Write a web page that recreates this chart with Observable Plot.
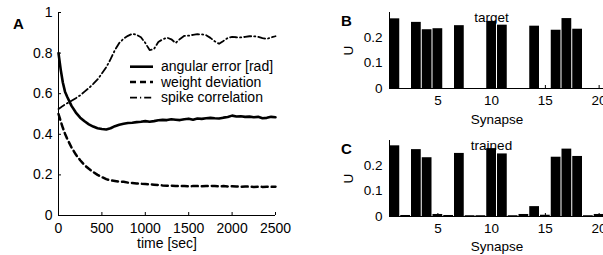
<!DOCTYPE html>
<html><head><meta charset="utf-8">
<script src="https://cdn.jsdelivr.net/npm/d3@7"></script>
<script src="https://cdn.jsdelivr.net/npm/@observablehq/plot@0.6"></script>
<style>
html,body{margin:0;padding:0;background:#fff;overflow:hidden;width:603px;height:255px;}
#fig{position:relative;width:603px;height:255px;overflow:hidden;font-family:"Liberation Sans",Arial,Helvetica,sans-serif;}
#fig > *{position:absolute;}
</style></head><body><div id="fig"></div>
<script>
// ---------- data ----------
const time = [0,25,50,75,100,150,200,250,300,350,400,450,500,550,600,650,700,750,800,850,900,950,1000,1050,1100,1150,1200,1250,1300,1350,1400,1450,1500,1550,1600,1650,1700,1750,1800,1850,1900,1950,2000,2050,2100,2150,2200,2250,2300,2350,2400,2450,2500];
const angularError = [0.80,0.72,0.655,0.61,0.585,0.54,0.507,0.482,0.464,0.449,0.438,0.43,0.426,0.424,0.43,0.44,0.447,0.452,0.456,0.457,0.46,0.462,0.465,0.462,0.465,0.469,0.471,0.47,0.474,0.472,0.47,0.474,0.477,0.472,0.478,0.476,0.479,0.481,0.479,0.478,0.482,0.485,0.492,0.488,0.489,0.486,0.487,0.484,0.486,0.479,0.481,0.486,0.484];
const weightDeviation = [0.50,0.465,0.432,0.403,0.378,0.335,0.30,0.272,0.248,0.23,0.214,0.2,0.189,0.179,0.173,0.17,0.167,0.166,0.162,0.16,0.158,0.156,0.155,0.154,0.152,0.15,0.148,0.147,0.147,0.145,0.146,0.145,0.144,0.145,0.145,0.144,0.145,0.146,0.145,0.144,0.145,0.143,0.144,0.143,0.142,0.143,0.142,0.141,0.142,0.141,0.142,0.141,0.142];
const spikeCorrelation = [0.525,0.532,0.54,0.547,0.553,0.565,0.578,0.592,0.61,0.628,0.648,0.67,0.70,0.73,0.77,0.815,0.85,0.871,0.885,0.895,0.89,0.878,0.85,0.815,0.82,0.855,0.868,0.876,0.868,0.85,0.87,0.885,0.886,0.89,0.893,0.892,0.888,0.875,0.858,0.846,0.86,0.875,0.88,0.878,0.877,0.88,0.883,0.883,0.88,0.874,0.87,0.877,0.883];
const seriesNames = ["angular error [rad]","weight deviation","spike correlation"];
const timeTicks = [0,500,1000,1500,2000,2500];
const errTicks = [0,0.2,0.4,0.6,0.8,1];

const synapses = [1,2,3,4,5,6,7,8,9,10,11,12,13,14,15,16,17,18,19,20];
const targetU  = [0.275,0,0.261,0.232,0.236,0,0.248,0,0,0.265,0.250,0,0,0.246,0,0.230,0.276,0.234,0,0];
const trainedU = [0.279,0.004,0.264,0.232,0.008,0.004,0.249,0.003,0.003,0.268,0.247,0.003,0.008,0.039,0.005,0.234,0.266,0.237,0.003,0.008];
const synapseTicks = [5,10,15,20];
const uTicks = [0,0.1,0.2];
const panelTitles = ["target","trained"];
const panelLetters = ["A","B","C"];

// ---------- styles ----------
const FONT = '"Liberation Sans", Arial, Helvetica, sans-serif';
const lineStyles = [
  {strokeWidth: 2.6, dash: null},
  {strokeWidth: 2.5, dash: "6,4"},
  {strokeWidth: 1.8, dash: "7,3,1.2,3"}
];
const seriesValues = [angularError, weightDeviation, spikeCorrelation];

const fig = document.getElementById("fig");

// ---------- panel A ----------
const A = Plot.plot({
  width: 300, height: 255,
  marginLeft: 58, marginRight: 25, marginTop: 12, marginBottom: 40,
  style: {fontFamily: FONT, fontSize: "14px", color: "black", background: "transparent", overflow: "visible"},
  x: {domain: [0, 2500]},
  y: {domain: [0, 1]},
  marks: [
    ...seriesValues.map((vals, k) => Plot.line(time, {
      x: d => d, y: (d, i) => vals[i], stroke: "black",
      strokeWidth: lineStyles[k].strokeWidth, strokeDasharray: lineStyles[k].dash
    })),
    Plot.ruleX([0], {stroke: "black"}),
    Plot.ruleY([0], {stroke: "black"}),
    Plot.axisX({ticks: timeTicks, tickSize: -3, tickPadding: 11, tickFormat: d => String(d),
      label: "time [sec]", labelAnchor: "center", labelArrow: "none", labelOffset: 32}),
    Plot.axisY({ticks: errTicks, tickSize: -3, tickPadding: 9, tickFormat: d => String(d), label: null})
  ]
});
A.style.left = "0px"; A.style.top = "0px";
fig.appendChild(A);

// ---------- panels B and C ----------
function barPanel(values, title, top, height, marginBottom, labelOffset) {
  const rows = synapses.map((s, i) => ({s, u: values[i]}));
  const p = Plot.plot({
    width: 320, height,
    marginLeft: 89, marginRight: 16, marginTop: 12, marginBottom,
    style: {fontFamily: FONT, fontSize: "13.5px", color: "black", background: "transparent", overflow: "visible"},
    x: {domain: [0.5, 20.5]},
    y: {domain: [0, 0.3]},
    marks: [
      Plot.rectY(rows, {x1: d => d.s - 0.5, x2: d => d.s + 0.5, y: "u", fill: "black", insetLeft: 0.5, insetRight: 0.5}),
      Plot.ruleX([0.5], {stroke: "black"}),
      Plot.ruleY([0], {stroke: "black"}),
      Plot.axisX({ticks: synapseTicks, tickSize: -3, tickPadding: 9.5, label: "Synapse",
        labelAnchor: "center", labelArrow: "none", labelOffset}),
      Plot.axisY({ticks: uTicks, tickSize: -3, tickPadding: 10, tickFormat: d => String(d),
        label: "U", labelAnchor: "center", labelArrow: "none", labelOffset: 46}),
      Plot.text([title], {frameAnchor: "top", dx: -5.5, fontSize: 13.5, fill: "black"})
    ]
  });
  p.style.left = "300px"; p.style.top = top + "px";
  return p;
}
fig.appendChild(barPanel(targetU, panelTitles[0], 0, 128, 40, 35));
fig.appendChild(barPanel(trainedU, panelTitles[1], 128, 127, 39, 34));

// ---------- overlay: legend + panel letters ----------
const svg = d3.create("svg").attr("width", 603).attr("height", 255)
  .style("left", "0px").style("top", "0px").style("pointer-events", "none")
  .style("font-family", FONT);
const legendY = [66.7, 82, 97.7];
seriesNames.forEach((name, k) => {
  svg.append("line").attr("x1", 130).attr("x2", 153).attr("y1", legendY[k]).attr("y2", legendY[k])
    .attr("stroke", "black").attr("stroke-width", lineStyles[k].strokeWidth)
    .attr("stroke-dasharray", lineStyles[k].dash);
  svg.append("text").attr("x", 161).attr("y", legendY[k] + 4.6).attr("font-size", 14).text(name);
});
const letterPos = [[13, 28.5], [341, 26], [341, 153.5]];
panelLetters.forEach((L, k) => {
  svg.append("text").attr("x", letterPos[k][0]).attr("y", letterPos[k][1])
    .attr("font-size", 15).style("font-weight", "bold").text(L);
});
fig.appendChild(svg.node());
</script></body></html>
